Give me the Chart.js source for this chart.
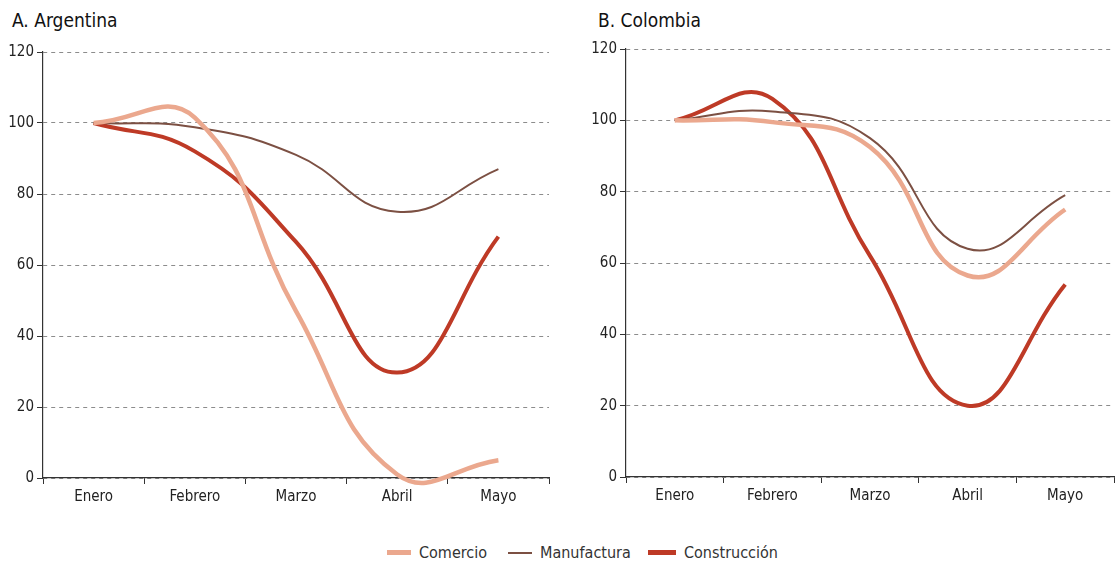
<!DOCTYPE html>
<html>
<head>
<meta charset="utf-8">
<script src="https://cdn.jsdelivr.net/npm/chart.js@4"></script>
<style>
  body { margin: 0; background: #fff; width: 1120px; height: 561px; overflow: hidden; position: relative;
         font-family: 'Liberation Sans Narrow', 'DejaVu Sans Condensed', sans-serif; }
  .title { position: absolute; top: 9px; font-size: 19px; color: #111; }
  .wrap { position: absolute; top: 0; height: 520px; }
  .legend { position: absolute; top: 543px; font-size: 16px; color: #333; white-space: nowrap; }
  .legend i { display: inline-block; vertical-align: middle; margin-right: 8px; position: relative; top: -1px; }
</style>
</head>
<body>
<div class="title" style="left:12px">A. Argentina</div>
<div class="title" style="left:598px">B. Colombia</div>
<div class="wrap" style="left:0;width:560px"><canvas id="chartA"></canvas></div>
<div class="wrap" style="left:580px;width:540px"><canvas id="chartB"></canvas></div>
<div class="legend" style="left:387px"><i style="width:24px;border-top:5px solid #EBA88E"></i>Comercio</div>
<div class="legend" style="left:508px"><i style="width:24px;border-top:2px solid #7C5043"></i>Manufactura</div>
<div class="legend" style="left:648px"><i style="width:28px;border-top:5px solid #BE3A26"></i>Construcción</div>
<script>
const meses = ["Enero", "Febrero", "Marzo", "Abril", "Mayo"];
const yTicks = [0, 20, 40, 60, 80, 100, 120];

const argComercio = [100, 101.5, 47, 1, 5];
const argManufactura = [100, 98.8, 91, 75, 87];
const argConstruccion = [100, 92, 66.5, 29.7, 68];

const colComercio = [100, 99.5, 92.5, 56.5, 75];
const colManufactura = [100, 102.5, 95, 64, 79];
const colConstruccion = [100, 106, 62, 20, 54];

const FONT = "'Liberation Sans Narrow', 'DejaVu Sans Condensed', sans-serif";

function makeChart(id, comercio, manufactura, construccion, pad, yWidth, xHeight) {
  const ctx = document.getElementById(id).getContext('2d');
  return new Chart(ctx, {
    type: 'line',
    data: {
      labels: meses,
      datasets: [
        { label: 'Comercio', data: comercio, borderColor: '#EBA88E', borderWidth: 4.5, tension: 0.45, pointRadius: 0, clip: 10 },
        { label: 'Manufactura', data: manufactura, borderColor: '#7C5043', borderWidth: 2, tension: 0.45, pointRadius: 0, clip: 10 },
        { label: 'Construcción', data: construccion, borderColor: '#BE3A26', borderWidth: 4, tension: 0.45, pointRadius: 0, clip: 10 }
      ]
    },
    options: {
      responsive: true,
      maintainAspectRatio: false,
      animation: false,
      layout: { padding: pad },
      elements: { line: { capBezierPoints: false } },
      plugins: { legend: { display: false }, tooltip: { enabled: false } },
      scales: {
        x: {
          offset: true,
          grid: { offset: true, drawOnChartArea: false, drawTicks: true, tickLength: 6, color: '#333', tickWidth: 1 },
          border: { color: '#333', width: 1.2 },
          ticks: { color: '#222', font: { family: FONT, size: 15 }, padding: 4, maxRotation: 0 },
          afterFit: s => { s.height = xHeight; }
        },
        y: {
          min: 0, max: 120,
          afterBuildTicks: s => { s.ticks = yTicks.map(v => ({ value: v })); },
          grid: { color: '#8c8c8c', lineWidth: 1, drawTicks: true, tickLength: 6, tickColor: '#333' },
          border: { color: '#333', width: 1.2, dash: [4, 4] },
          ticks: { color: '#222', font: { family: FONT, size: 15 }, padding: 3 },
          afterFit: s => { s.width = yWidth; }
        }
      }
    }
  });
}

makeChart('chartA', argComercio, argManufactura, argConstruccion, { top: 52, right: 11, left: 0, bottom: 0 }, 43, 42);
makeChart('chartB', colComercio, colManufactura, colConstruccion, { top: 49, right: 6, left: 0, bottom: 0 }, 46, 43);
</script>
</body>
</html>
